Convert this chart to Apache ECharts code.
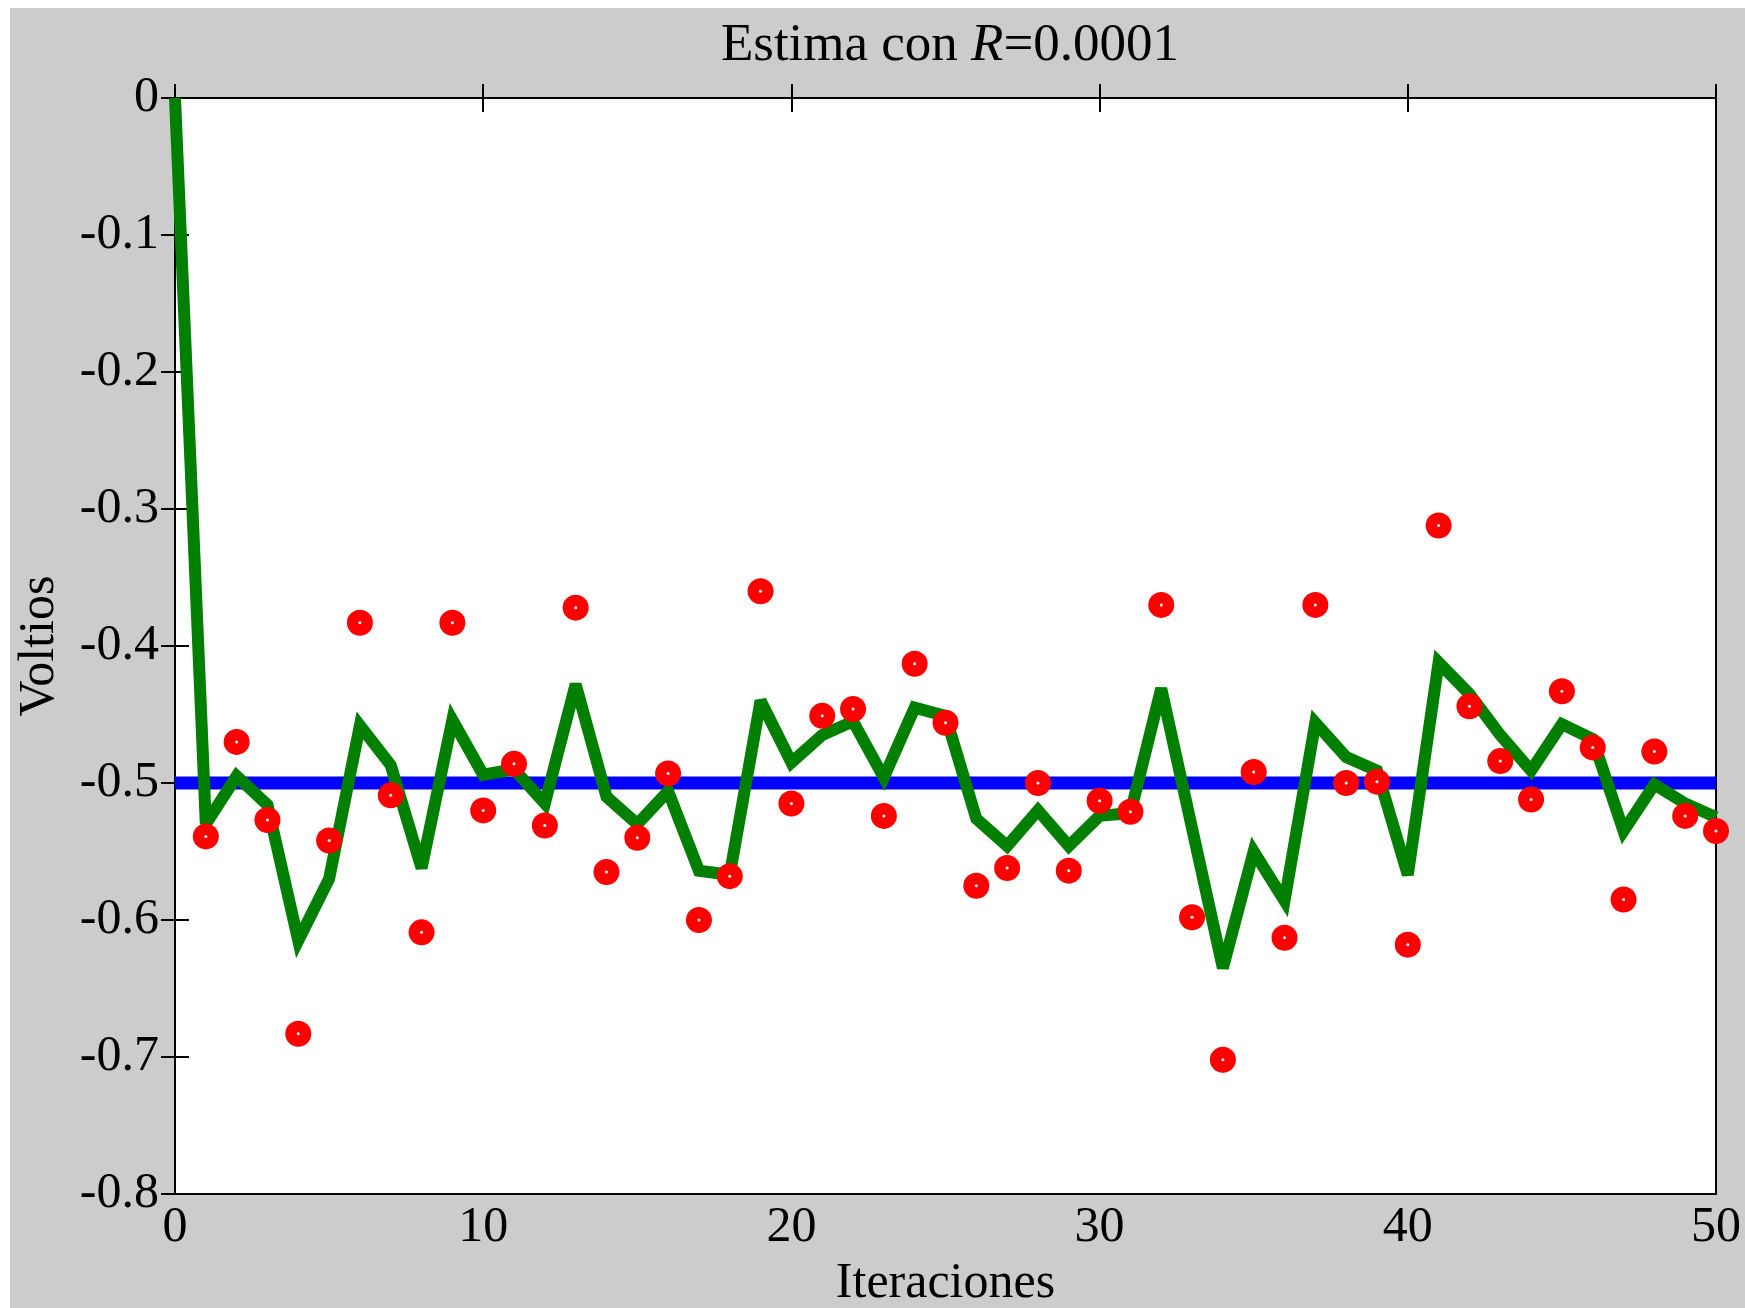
<!DOCTYPE html>
<html>
<head>
<meta charset="utf-8">
<script src="https://cdn.jsdelivr.net/npm/echarts@6/dist/echarts.min.js"></script>
<style>
html,body{margin:0;padding:0;background:#ffffff;}
#bg{position:absolute;left:10px;top:8px;width:1735px;height:1300px;background:#cccccc;}
#chart{position:absolute;left:0;top:0;width:1745px;height:1308px;}
</style>
</head>
<body>
<div id="bg"></div>
<div id="chart"></div>
<script>
// Iteration indices
const iterations = [0,1,2,3,4,5,6,7,8,9,10,11,12,13,14,15,16,17,18,19,20,21,22,23,24,25,26,27,28,29,30,31,32,33,34,35,36,37,38,39,40,41,42,43,44,45,46,47,48,49,50];
// Noisy measurements (red dots), iterations 1..50
const measurements = [-0.539,-0.470,-0.527,-0.683,-0.542,-0.383,-0.509,-0.609,-0.383,-0.520,
  -0.486,-0.531,-0.372,-0.565,-0.540,-0.493,-0.600,-0.568,-0.360,-0.515,
  -0.451,-0.446,-0.524,-0.413,-0.456,-0.575,-0.562,-0.500,-0.564,-0.513,
  -0.521,-0.370,-0.598,-0.702,-0.492,-0.613,-0.370,-0.500,-0.499,-0.618,
  -0.312,-0.444,-0.484,-0.512,-0.433,-0.474,-0.585,-0.477,-0.524,-0.535];
// Estimates (green line), iterations 0..50
const estimates = [0,-0.530,-0.495,-0.516,-0.615,-0.570,-0.458,-0.487,-0.562,-0.454,-0.494,
  -0.490,-0.515,-0.428,-0.510,-0.530,-0.506,-0.564,-0.567,-0.440,-0.485,
  -0.465,-0.455,-0.496,-0.445,-0.451,-0.526,-0.546,-0.520,-0.546,-0.524,
  -0.522,-0.431,-0.533,-0.635,-0.550,-0.586,-0.456,-0.481,-0.491,-0.567,
  -0.412,-0.435,-0.465,-0.491,-0.457,-0.468,-0.535,-0.501,-0.515,-0.525];
// True value (blue line)
const trueX = [0, 50];
const trueY = [-0.5, -0.5];
const titleParts = ['Estima con ', 'R', '=0.0001'];
const xName = 'Iteraciones';
const yName = 'Voltios';

const FONT = '"Liberation Serif", "Times New Roman", serif';
const measData = measurements.map((v, k) => [iterations[k + 1], v]);
const estData = estimates.map((v, k) => [iterations[k], v]);
const trueData = trueX.map((x, k) => [x, trueY[k]]);

const chart = echarts.init(document.getElementById('chart'), null, {renderer: 'canvas'});
const tickStyle = {show: true, inside: true, length: 14, lineStyle: {color: '#000', width: 2}};
chart.setOption({
  backgroundColor: 'transparent',
  animation: false,
  title: {
    text: '{a|' + titleParts[0] + '}{i|' + titleParts[1] + '}{a|' + titleParts[2] + '}',
    left: 945, top: 41, textAlign: 'center', textVerticalAlign: 'middle',
    textStyle: {
      fontWeight: 'normal',
      rich: {
        a: {fontFamily: FONT, fontSize: 53, fontWeight: 'normal', color: '#000'},
        i: {fontFamily: FONT, fontSize: 53, fontWeight: 'normal', fontStyle: 'italic', color: '#000'}
      }
    }
  },
  grid: {left: 175, top: 98, right: 29, bottom: 114, containLabel: false, outerBoundsMode: 'none',
    show: true, backgroundColor: '#ffffff', borderColor: '#000', borderWidth: 2},
  xAxis: [{
    type: 'value', min: 0, max: 50, interval: 10, position: 'bottom',
    axisLine: {show: false}, axisTick: tickStyle, splitLine: {show: false},
    axisLabel: {fontFamily: FONT, fontSize: 50, color: '#000', margin: 9},
    name: xName, nameLocation: 'middle', nameGap: 65,
    nameTextStyle: {fontFamily: FONT, fontSize: 50, color: '#000'}
  }, {
    type: 'value', min: 0, max: 50, interval: 10, position: 'top',
    axisLine: {show: false}, axisTick: tickStyle, splitLine: {show: false},
    axisLabel: {show: false}
  }],
  yAxis: [{
    type: 'value', min: -0.8, max: 0, interval: 0.1, position: 'left',
    axisLine: {show: false}, axisTick: tickStyle, splitLine: {show: false},
    axisLabel: {fontFamily: FONT, fontSize: 50, color: '#000', margin: 16},
    name: yName, nameLocation: 'middle', nameGap: 110, nameRotate: 90,
    nameTextStyle: {fontFamily: FONT, fontSize: 50, color: '#000'}
  }, {
    type: 'value', min: -0.8, max: 0, interval: 0.1, position: 'right',
    axisLine: {show: false}, axisTick: tickStyle, splitLine: {show: false},
    axisLabel: {show: false}
  }],
  series: [
    {type: 'line', data: trueData, symbol: 'none', lineStyle: {color: '#0000ff', width: 13}, z: 2},
    {type: 'line', data: estData, symbol: 'none', lineStyle: {color: '#007f00', width: 12, join: 'miter', miterLimit: 3}, z: 3},
    {type: 'scatter', data: measData, symbol: 'circle', symbolSize: 26, itemStyle: {color: '#ff0000', opacity: 1}, z: 4},
    {type: 'scatter', data: measData, symbol: 'circle', symbolSize: 3, itemStyle: {color: '#ffffff', opacity: 1}, z: 5, silent: true}
  ]
});
</script>
</body>
</html>
